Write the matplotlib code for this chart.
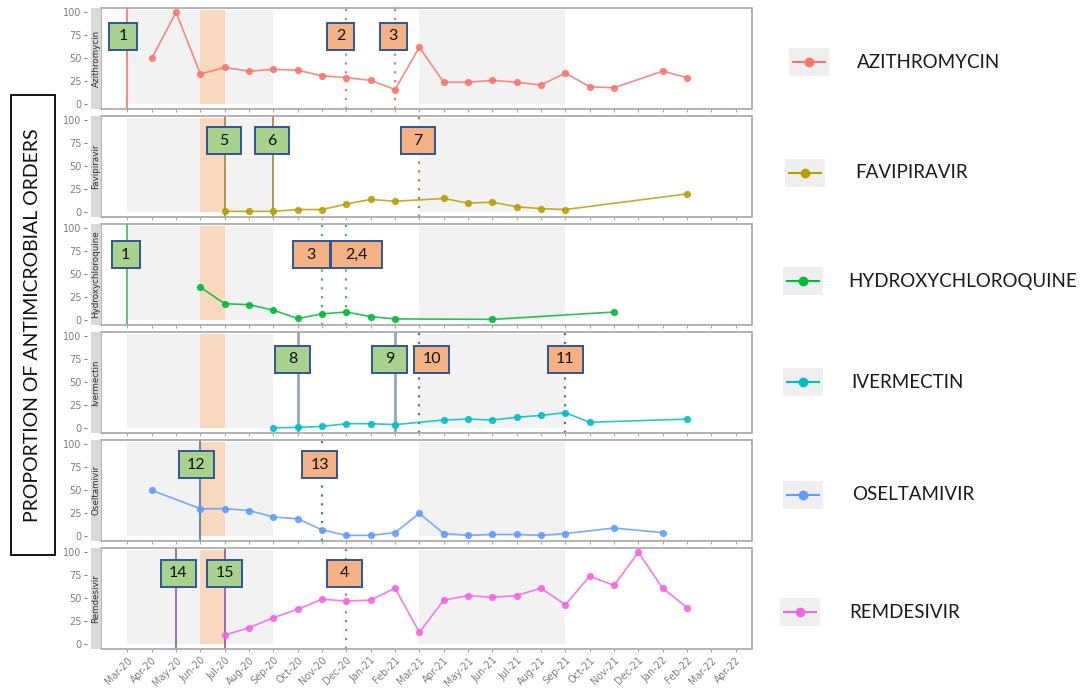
import numpy as np
import matplotlib
matplotlib.use('Agg')
import matplotlib.pyplot as plt
from matplotlib.patches import Rectangle
from matplotlib.lines import Line2D
from matplotlib import font_manager

nan = np.nan

# ---------------- data ----------------
months = ['Mar-20', 'Apr-20', 'May-20', 'Jun-20', 'Jul-20', 'Aug-20', 'Sep-20', 'Oct-20',
          'Nov-20', 'Dec-20', 'Jan-21', 'Feb-21', 'Mar-21', 'Apr-21', 'May-21', 'Jun-21',
          'Jul-21', 'Aug-21', 'Sep-21', 'Oct-21', 'Nov-21', 'Dec-21', 'Jan-22', 'Feb-22',
          'Mar-22', 'Apr-22']

drug_names = ['Azithromycin', 'Favipiravir', 'Hydroxychloroquine', 'Ivermectin',
              'Oseltamivir', 'Remdesivir']
legend_labels = ['AZITHROMYCIN', 'FAVIPIRAVIR', 'HYDROXYCHLOROQUINE', 'IVERMECTIN',
                 'OSELTAMIVIR', 'REMDESIVIR']

azithromycin = [nan, 50, 100, 33, 40, 36, 38, 37, 31, 29, 26, 16, 62, 24, 24, 26, 24, 21,
                34, 19, 18, nan, 36, 29, nan, nan]
favipiravir = [nan, nan, nan, nan, 1, 1, 1, 3, 3, 9, 14, 12, nan, 15, 10, 11, 6, 4,
               3, nan, nan, nan, nan, 20, nan, nan]
hydroxychloroquine = [nan, nan, nan, 36, 18, 17, 11, 2, 7, 9, 4, 1.5, nan, nan, nan, 1, nan,
                      nan, nan, nan, 9, nan, nan, nan, nan, nan]
ivermectin = [nan, nan, nan, nan, nan, nan, 0.5, 1, 2, 5, 5, 4, nan, 9, 10, 9, 12, 14,
              17, 6.5, nan, nan, nan, 10, nan, nan]
oseltamivir = [nan, 50, nan, 30, 30, 28, 21, 19, 7, 1, 1, 4, 25, 3, 1, 2, 2, 1,
               3, nan, 9, nan, 4, nan, nan, nan]
remdesivir = [nan, nan, nan, nan, 10, 18, 29, 38, 49, 47, 48, 61, 13, 48, 53, 51, 53, 61,
              43, 74, 64, 100, 61, 40, nan, nan]

series = [azithromycin, favipiravir, hydroxychloroquine, ivermectin, oseltamivir, remdesivir]

# event markers (months) per panel
solid_events = [['Mar-20'], ['Jul-20', 'Sep-20'], ['Mar-20'], ['Oct-20', 'Feb-21'],
                ['Jun-20'], ['May-20', 'Jul-20']]
dotted_events = [['Dec-20', 'Feb-21'], ['Mar-21'], ['Nov-20', 'Dec-20'], ['Mar-21', 'Sep-21'],
                 ['Nov-20'], ['Dec-20']]
# annotation labels per panel: (text, kind)  g = green, o = orange
box_labels = [[('1', 'g'), ('2', 'o'), ('3', 'o')],
              [('5', 'g'), ('6', 'g'), ('7', 'o')],
              [('1', 'g'), ('3', 'o'), ('2,4', 'o')],
              [('8', 'g'), ('9', 'g'), ('10', 'o'), ('11', 'o')],
              [('12', 'g'), ('13', 'o')],
              [('14', 'g'), ('15', 'g'), ('4', 'o')]]
grey_periods = [('Mar-20', 'Sep-20'), ('Mar-21', 'Sep-21')]
orange_period = ('Jun-20', 'Jul-20')
yticks = [0, 25, 50, 75, 100]

# ---------------- style / layout ----------------
colors = ['#F8766D', '#B79F00', '#00BA38', '#00BFC4', '#619CFF', '#F564E3']
solid_colors = ['#F8766D', '#A3863F', '#4DB85A', '#8EA9C1', '#6E8CAA', '#8E5A9E']
dotted_colors = ['#F8766D', '#A3863F', '#4DB85A', '#5A7592', '#5A7592', '#B46AC4']
solid_widths = [1.2, 1.2, 1.2, 2.0, 1.5, 1.2]
box_fill = {'g': '#A9D18E', 'o': '#F4B183'}
box_edge = '#2F5597'

# box centres (month index, y value) and widths (px)
box_x = [[-0.18, 8.76, 10.92], [3.95, 5.95, 11.95], [-0.07, 7.56, 9.4],
         [6.79, 10.77, 12.51, 17.99], [2.83, 7.9], [2.09, 3.99, 8.92]]
box_w = [[28, 27, 27], [34, 34, 34], [28, 37, 51], [35, 35, 35, 35], [35, 35], [35, 35, 35]]
box_y = [74, 78, 71, 75, 78, 77]

fams = {f.name for f in font_manager.fontManager.ttflist}
narrow = 'Liberation Sans Narrow' if 'Liberation Sans Narrow' in fams else 'Lato'

W, H = 1087, 694
fig = plt.figure(figsize=(W / 100, H / 100), dpi=100)
fig.patch.set_facecolor('white')

left_px, right_px = 101, 752
px_per_month = 24.33
x0_px = 127.4
xlim = ((left_px - x0_px) / px_per_month, (right_px - x0_px) / px_per_month)
px_per_unit = 0.92

def frect(l, t, w, h):
    return [l / W, 1 - (t + h) / H, w / W, h / H]

idx = {m: i for i, m in enumerate(months)}
xs = np.arange(len(months))

for k in range(6):
    top = 7.7 + 108.0 * k
    hgt = 101.2
    ax = fig.add_axes(frect(left_px, top, right_px - left_px, hgt))
    ax.set_xlim(*xlim)
    ax.set_ylim(-5, 105)
    ax.set_facecolor('white')

    # background periods
    for a, b in grey_periods:
        ax.add_patch(Rectangle((idx[a], 0), idx[b] - idx[a], 103, facecolor='#F2F2F2',
                               edgecolor='none', zorder=0))
    a, b = orange_period
    ax.add_patch(Rectangle((idx[a], 0), idx[b] - idx[a], 103, facecolor='#F8D9C0',
                           edgecolor='none', zorder=0.5))

    # event lines
    for m in solid_events[k]:
        ax.axvline(idx[m], color=solid_colors[k], lw=solid_widths[k], zorder=2)
    for m in dotted_events[k]:
        ax.axvline(idx[m], color=dotted_colors[k], lw=1.6, ls=(0, (1, 3)), zorder=2)

    # series
    vals = np.array(series[k], dtype=float)
    ok = ~np.isnan(vals)
    ax.plot(xs[ok], vals[ok], color=colors[k], lw=1.2, alpha=0.85, marker='o', ms=4.2,
            zorder=3)

    # annotation boxes
    bh = 27 / px_per_unit
    for (txt, kind), cx, wpx in zip(box_labels[k], box_x[k], box_w[k]):
        bw = wpx / px_per_month
        ax.add_patch(Rectangle((cx - bw / 2, box_y[k] - bh / 2), bw, bh,
                               facecolor=box_fill[kind], edgecolor=box_edge, lw=1.4,
                               zorder=5, clip_on=False))
        ax.text(cx, box_y[k], txt, ha='center', va='center', fontsize=11.5,
                family=narrow, color='#111111', zorder=6)

    # axes styling
    for s in ax.spines.values():
        s.set_visible(False)
    ax.add_patch(Rectangle((0, 0), 1, 1, transform=ax.transAxes, fill=False,
                           edgecolor='#A6A6A6', lw=1.2, zorder=7, clip_on=False))
    ax.spines['left'].set_visible(True)
    ax.spines['left'].set_color('none')
    ax.spines['left'].set_position(('outward', 10))
    ax.set_yticks(yticks)
    ax.set_yticklabels([str(v) for v in yticks])
    ax.tick_params(axis='y', length=2.5, width=0.8, color='#7F7F7F', labelsize=7,
                   labelcolor='#7F7F7F', pad=1.5)
    ax.set_xticks(xs)
    if k == 5:
        ax.set_xticklabels(months, rotation=45, ha='right', rotation_mode='anchor',
                           fontsize=7, color='#7F7F7F')
    else:
        ax.set_xticklabels([])
    ax.tick_params(axis='x', length=2.5, width=0.8, color='#A6A6A6', pad=2)

    # left strip
    fig.patches.append(Rectangle(((left_px - 10) / W, 1 - (top + hgt) / H), 10 / W, hgt / H,
                                 transform=fig.transFigure, facecolor='#D9D9D9',
                                 edgecolor='none'))
    fig.text((left_px - 5) / W, 1 - (top + hgt / 2) / H, drug_names[k], rotation=90,
             ha='center', va='center', fontsize=6.3, color='#333333')

# left label box
fig.patches.append(Rectangle((11 / W, 1 - 555 / H), 44 / W, 460 / H, transform=fig.transFigure,
                             facecolor='white', edgecolor='black', lw=1.3))
fig.text(33 / W, 1 - 325 / H, 'PROPORTION OF ANTIMICROBIAL ORDERS', rotation=90,
         ha='center', va='center', fontsize=14, family=narrow, color='#111111')

# legend
leg_y = [62, 173, 281, 382, 495, 612]
key_x = [809, 805, 803, 803, 803, 800]
text_x = [857, 855, 848, 851, 852, 849]
for k in range(6):
    yk = 1 - leg_y[k] / H
    fig.patches.append(Rectangle(((key_x[k] - 20) / W, yk - 14 / H), 40 / W, 28 / H,
                                 transform=fig.transFigure, facecolor='#EFEFEF',
                                 edgecolor='none'))
    fig.lines.append(Line2D([(key_x[k] - 16) / W, (key_x[k] + 16) / W], [yk, yk],
                            transform=fig.transFigure, color=colors[k], lw=1.5,
                            marker=None))
    fig.lines.append(Line2D([key_x[k] / W], [yk], transform=fig.transFigure,
                            color=colors[k], marker='o', ms=6, lw=0))
    fig.text(text_x[k] / W, yk, legend_labels[k], ha='left', va='center', fontsize=13.5,
             family='Lato', color='#1A1A1A')

fig.savefig('out.png', dpi=100)
